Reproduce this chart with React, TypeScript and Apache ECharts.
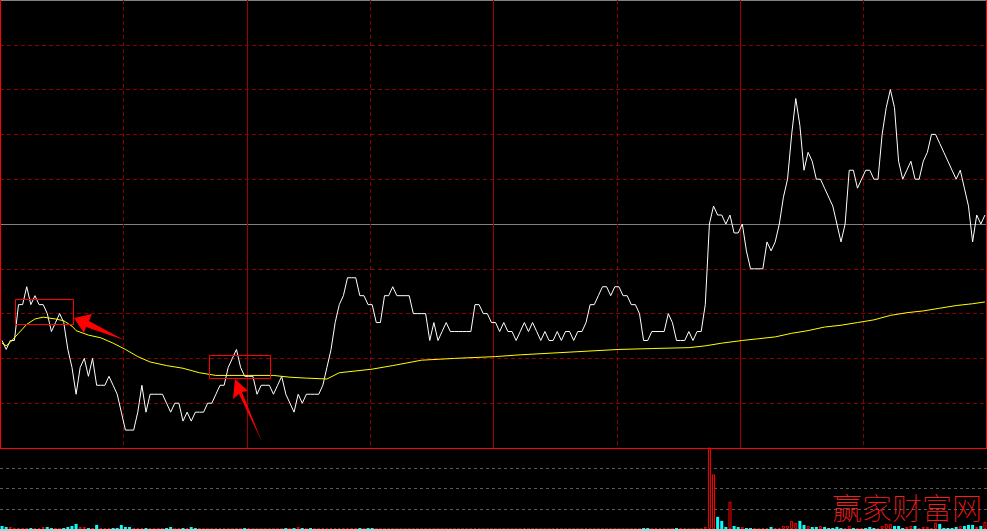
import React, { useEffect, useRef } from "react";
import * as echarts from "echarts";

// price in ticks relative to previous close (one tick = 0.2 grid step), one value per minute
const priceTicks: number[] = [
  -13, -14, -13, -13, -9, -9, -7, -9, -8, -9,
  -9, -10, -12, -11, -10, -11, -14, -16, -19, -16,
  -15, -17, -15, -18, -18, -18, -17, -18, -19, -21,
  -23, -23, -23, -21, -18, -21, -19, -19, -19, -19,
  -20, -21, -20, -20, -22, -21, -22, -21, -21, -21,
  -20, -20, -19, -18, -18, -16, -15, -14, -16, -17,
  -17, -17, -19, -18, -18, -18, -19, -18, -17, -19,
  -20, -21, -19, -20, -19, -19, -19, -19, -18, -16,
  -14, -11, -9, -8, -6, -6, -6, -8, -8, -9,
  -9, -11, -11, -8, -8, -7, -8, -8, -8, -8,
  -10, -10, -10, -10, -13, -11, -13, -12, -11, -12,
  -12, -12, -12, -12, -12, -9, -9, -10, -10, -11,
  -11, -12, -11, -12, -12, -13, -12, -11, -12, -11,
  -12, -13, -12, -13, -13, -12, -13, -12, -12, -13,
  -12, -12, -11, -9, -9, -8, -7, -7, -8, -7,
  -7, -8, -8, -9, -9, -10, -13, -13, -12, -12,
  -12, -12, -10, -11, -13, -13, -13, -12, -13, -12,
  -12, -9, 0, 2, 1, 1, 0, 1, -1, -1,
  0, -3, -5, -5, -5, -5, -2, -3, -2, 0,
  3, 5, 10, 14, 11, 6, 8, 7, 5, 5,
  4, 3, 2, 0, -2, 0, 6, 6, 4, 5,
  6, 6, 5, 5, 10, 13, 15, 13, 7, 5,
  6, 7, 5, 5, 7, 8, 10, 10, 9, 8,
  7, 6, 5, 6, 4, 2, -2, 1, 0, 1,
];

// average price line read at selected minutes: [minute, ticks]
const avgPoints: [number, number][] = [
  [0, -13.3], [1, -13.6], [2, -13.2], [4, -12.2], [6, -11.2], [8, -10.6], [10, -10.4],
  [13, -10.6], [15, -10.8], [17, -11.4], [18, -11.9], [21, -12.4], [24, -12.7], [27, -13.3],
  [30, -14.0], [33, -14.8], [36, -15.4], [40, -15.8], [44, -16.1], [48, -16.6], [52, -16.9],
  [60, -16.9], [66, -16.9], [70, -17.1], [74, -17.2], [79, -17.3], [82, -16.6], [90, -16.2],
  [95, -15.8], [102, -15.2], [110, -15.0], [120, -14.8], [126, -14.6], [134, -14.4],
  [142, -14.2], [150, -14.0], [158, -13.9], [167, -13.8], [171, -13.6], [175, -13.3],
  [180, -13.0], [184, -12.8], [188, -12.6], [192, -12.2], [196, -11.9], [200, -11.5],
  [204, -11.3], [208, -11.0], [212, -10.7], [216, -10.2], [220, -9.9], [224, -9.7],
  [228, -9.4], [232, -9.1], [236, -8.9], [239, -8.7],
];

// volume per minute (panel units)
const volumes: number[] = [
  3, 2, 2, 1, 1, 1, 1, 1, 1, 1,
  2, 2, 1, 1, 0, 1, 2, 3, 5, 2,
  2, 1, 1, 4, 1, 1, 1, 1, 1, 4,
  2, 2, 1, 1, 1, 1, 1, 0, 1, 1,
  1, 2, 0, 1, 1, 1, 2, 1, 1, 0,
  0, 0, 1, 1, 1, 0, 0, 1, 0, 1,
  1, 0, 0, 0, 0, 0, 0, 0, 0, 1,
  0, 1, 2, 1, 0, 1, 0, 0, 1, 0,
  1, 1, 1, 1, 1, 1, 1, 1, 0, 1,
  1, 0, 0, 0, 0, 0, 0, 0, 0, 0,
  0, 0, 0, 0, 0, 0, 0, 0, 0, 0,
  0, 0, 0, 0, 0, 1, 0, 0, 0, 0,
  0, 0, 0, 0, 0, 0, 0, 1, 0, 0,
  0, 0, 0, 0, 0, 1, 0, 0, 0, 0,
  0, 0, 1, 0, 0, 0, 0, 0, 0, 0,
  0, 0, 0, 0, 0, 0, 1, 1, 0, 1,
  1, 0, 0, 0, 1, 1, 1, 0, 0, 0,
  0, 2, 120, 54, 12, 8, 2, 27, 3, 2,
  2, 1, 1, 1, 0, 1, 1, 2, 1, 1,
  3, 3, 8, 6, 8, 4, 3, 2, 2, 3,
  2, 1, 1, 2, 1, 1, 3, 1, 1, 1,
  1, 2, 1, 1, 3, 5, 5, 3, 3, 1,
  2, 3, 3, 1, 2, 2, 1, 6, 5, 1,
  1, 1, 2, 3, 3, 4, 4, 2, 3, 7,
];

// bar colour per minute: r = up (red hollow), c = down (cyan)
const volumeDirection =
  "ccrrrrrcrr" + "rccrrccccr" + "rcrcrrrccc" + "ccrrrcrrrr" + "ccrrcrccrr" +
  "rrrrrrrrrc" + "rrrrrrrrrc" + "rcrcrcrrrr" + "rrrrrrrcrc" + "crrrrrrrrr" +
  "rrrrrrrrrr" + "rrrrrrrrrr" + "rrrrrrrrrr" + "rrrrrrrrrr" + "rrrrrrrrrr" +
  "rrrrrrccrr" + "rrrrcrrrrr" + "rrrrcccrcc" + "rccrrrrcrr" + "rrrrccrccr" +
  "cccccrrcrr" + "cccrrrrccc" + "rrcrrrrrcc" + "cccrcccrcr";

const watermark = "赢家财富网";

export default function App() {
  const ref = useRef<HTMLDivElement>(null);

  useEffect(() => {
    const chart = echarts.init(ref.current!, null, { renderer: "svg" });
    const xBase = { type: "value", min: -0.5, max: 239.5, axisLabel: { show: false }, axisTick: { show: false }, axisLine: { show: false } };
    const option: any = {
      animation: false,
      backgroundColor: "#000000",
      grid: [
        { left: 0, right: 0, top: -3, height: 451 },
        { left: 0, right: 0, top: 448, height: 81 },
      ],
      xAxis: [
        { ...xBase, gridIndex: 0, interval: 30, splitLine: { show: true, lineStyle: { color: "#8c0000", type: [4, 3], width: 1 } } },
        { ...xBase, gridIndex: 0, interval: 60, splitLine: { show: true, lineStyle: { color: "#a00000", type: "solid", width: 1 } } },
        { ...xBase, gridIndex: 1, interval: 30, splitLine: { show: false } },
      ],
      yAxis: [
        { type: "value", gridIndex: 0, min: -25, max: 25, interval: 5, axisLabel: { show: false }, axisTick: { show: false }, axisLine: { show: false },
          splitLine: { show: true, lineStyle: { color: "#8c0000", type: [4, 3], width: 1 } } },
        { type: "value", gridIndex: 0, min: -25, max: 25, interval: 25, axisLabel: { show: false }, axisTick: { show: false }, axisLine: { show: false },
          splitLine: { show: true, lineStyle: { color: "#808080", type: "solid", width: 1 } } },
        { type: "value", gridIndex: 1, min: 0, max: 80, interval: 20, axisLabel: { show: false }, axisTick: { show: false }, axisLine: { show: false },
          splitLine: { show: true, lineStyle: { color: "#5a5a5a", type: [3, 3], width: 1 } } },
      ],
      series: [
        {
          type: "line", xAxisIndex: 0, yAxisIndex: 0, z: 3,
          data: priceTicks.map((v, i) => [i, v]),
          showSymbol: false, symbol: "none",
          lineStyle: { color: "#ffffff", width: 1 },
        },
        {
          type: "line", xAxisIndex: 0, yAxisIndex: 0, z: 4,
          data: avgPoints,
          showSymbol: false, symbol: "none",
          lineStyle: { color: "#ffff00", width: 1 },
        },
        {
          type: "bar", xAxisIndex: 2, yAxisIndex: 2, barWidth: 3, z: 3,
          data: volumes.map((v, i) => {
            const up = volumeDirection[i] !== "c";
            return {
              value: [i, v],
              itemStyle: up
                ? { color: "#000000", borderColor: "#ff0000", borderWidth: 1 }
                : { color: "#00ffff", borderWidth: 0 },
            };
          }),
        },
      ],
      graphic: [
        { type: "line", z: 100, shape: { x1: 0.5, y1: 0, x2: 0.5, y2: 448 }, style: { stroke: "#ff0000", lineWidth: 1 } },
        { type: "line", z: 100, shape: { x1: 986.5, y1: 0, x2: 986.5, y2: 448 }, style: { stroke: "#ff0000", lineWidth: 1 } },
        { type: "line", z: 100, shape: { x1: 0, y1: 448.5, x2: 987, y2: 448.5 }, style: { stroke: "#ff0000", lineWidth: 1 } },
        { type: "rect", z: 100, shape: { x: 0, y: 529, width: 987, height: 2 }, style: { fill: "#c8c8c8" } },
        { type: "rect", z: 100, shape: { x: 15.5, y: 299.5, width: 58, height: 25 }, style: { fill: "none", stroke: "#ff0000", lineWidth: 1 } },
        { type: "rect", z: 100, shape: { x: 209.5, y: 355.5, width: 61, height: 23 }, style: { fill: "none", stroke: "#ff0000", lineWidth: 1 } },
        { type: "polygon", z: 100, shape: { points: [[74, 318], [92, 314], [89, 321], [124, 340], [86, 327], [84, 333]] }, style: { fill: "#ff0000" } },
        { type: "polygon", z: 100, shape: { points: [[235, 379], [248, 391], [242, 392], [262, 442], [239, 394], [233, 399]] }, style: { fill: "#ff0000" } },
        { type: "text", z: 100, x: 832, y: 491, style: { text: watermark, fill: "#ff1a1a", font: '100 30px "Noto Sans CJK SC"' } },
      ],
    };
    chart.setOption(option);
    return () => chart.dispose();
  }, []);

  return (
    <div
      ref={ref}
      style={{ position: "fixed", left: 0, top: 0, width: 987, height: 531, background: "#000" }}
    />
  );
}
